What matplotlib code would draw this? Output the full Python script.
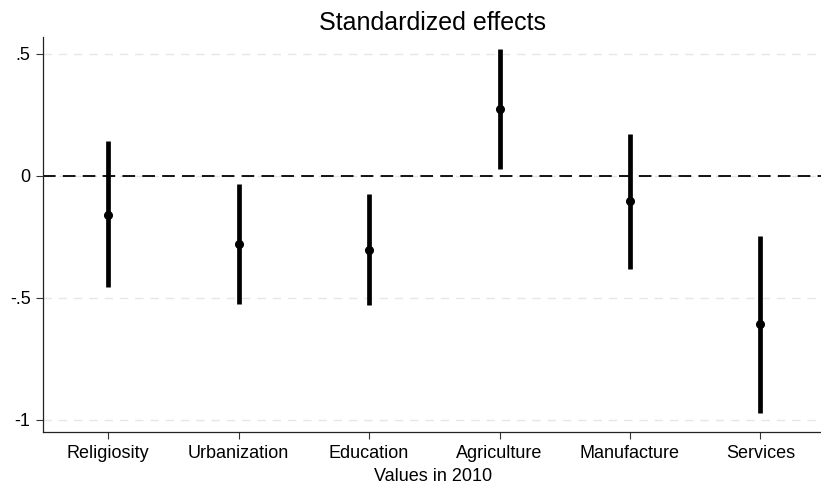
import matplotlib
matplotlib.use("Agg")
import matplotlib.pyplot as plt

# --- data ---
labels = ["Religiosity", "Urbanization", "Education", "Agriculture", "Manufacture", "Services"]
coef = [-0.160, -0.279, -0.303, 0.274, -0.105, -0.608]
ci_low = [-0.458, -0.526, -0.531, 0.027, -0.381, -0.970]
ci_high = [0.140, -0.033, -0.076, 0.520, 0.172, -0.249]
yticks = [0.5, 0, -0.5, -1]
ytick_labels = [".5", "0", "-.5", "-1"]

plt.rcParams['font.family'] = ['Liberation Sans', 'DejaVu Sans']

fig = plt.figure(figsize=(8.21, 4.86), dpi=100)
ax = fig.add_axes([0.0524, 0.111, 0.95, 0.813])

pos = list(range(1, len(labels) + 1))

# light dashed grid at the y ticks
for t in yticks:
    ax.axhline(t, color="#e6e6e6", lw=1.0, ls=(0, (6, 5)), zorder=0)
ax.axhline(0, color="black", lw=1.3, ls=(0, (7, 4)), zorder=1)

ax.vlines(pos, ci_low, ci_high, color="black", lw=3.4, zorder=2)
ax.plot(pos, coef, "o", color="black", ms=5.5, zorder=3)

ax.set_xlim(0.5, 6.48)
ax.set_ylim(-1.05, 0.568)
ax.set_xticks(pos)
ax.set_xticklabels(labels, fontsize=13)
ax.set_yticks(yticks)
ax.set_yticklabels(ytick_labels, fontsize=13)
ax.tick_params(axis="both", direction="out", length=5, width=0.8, color="#333333")
ax.tick_params(axis="x", pad=4)
ax.tick_params(axis="y", pad=4)

for s in ["top", "right"]:
    ax.spines[s].set_visible(False)
for s in ["left", "bottom"]:
    ax.spines[s].set_linewidth(0.9)
    ax.spines[s].set_color("#222222")

ax.set_title("Standardized effects", fontsize=18, pad=5)
ax.set_xlabel("Values in 2010", fontsize=13, labelpad=5)

fig.savefig("out.png", dpi=100)
